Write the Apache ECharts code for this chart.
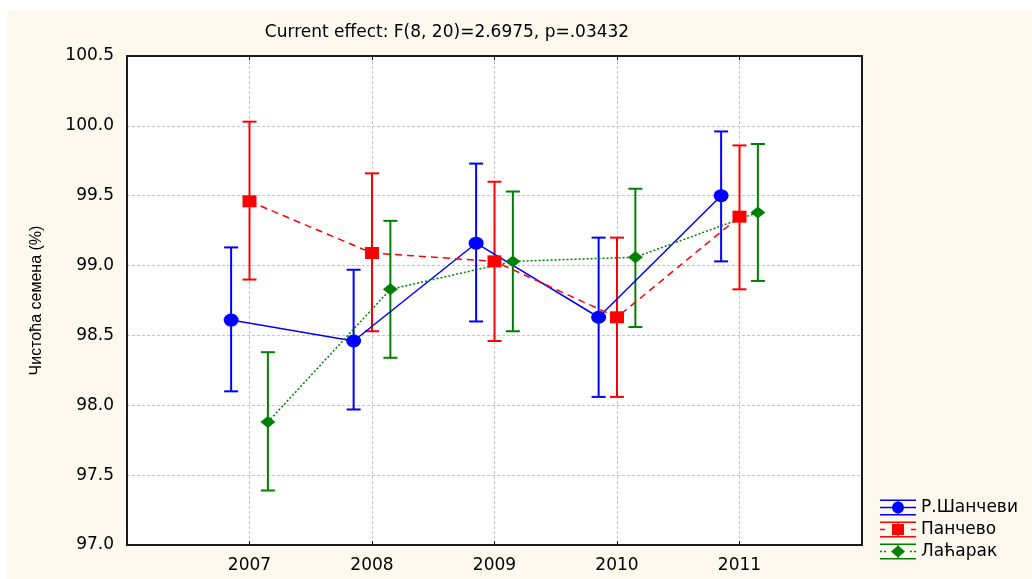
<!DOCTYPE html>
<html>
<head>
<meta charset="utf-8">
<script src="https://cdn.jsdelivr.net/npm/echarts@6/dist/echarts.min.js"></script>
<style>
  html, body { margin: 0; padding: 0; background: #ffffff; }
  #chart { position: absolute; left: 7px; top: 11px; width: 1025px; height: 568px; background: #fdf9ee; }
</style>
</head>
<body>
<div id="chart"></div>
<script>
// data
var years = [2007, 2008, 2009, 2010, 2011];
var yTicks = [97.0, 97.5, 98.0, 98.5, 99.0, 99.5, 100.0, 100.5];

var sanceviMean = [98.61, 98.46, 99.16, 98.63, 99.50];
var sanceviLow = [98.10, 97.97, 98.60, 98.06, 99.03];
var sanceviHigh = [99.13, 98.97, 99.73, 99.20, 99.96];

var pancevoMean = [99.46, 99.09, 99.03, 98.63, 99.35];
var pancevoLow = [98.90, 98.53, 98.46, 98.06, 98.83];
var pancevoHigh = [100.03, 99.66, 99.60, 99.20, 99.86];

var lacarakMean = [97.88, 98.83, 99.03, 99.06, 99.38];
var lacarakLow = [97.39, 98.34, 98.53, 98.56, 98.89];
var lacarakHigh = [98.38, 99.32, 99.53, 99.55, 99.87];

var names = ["Р.Шанчеви", "Панчево", "Лаћарак"];
var titleText = "Current effect: F(8, 20)=2.6975, p=.03432";

var chart = echarts.init(document.getElementById("chart"));
var font = "'DejaVu Sans', sans-serif";
var nameFont = "'Liberation Sans', Arial, sans-serif";

function points(mean, shift) {
  return years.map(function (y, i) { return [y + shift, mean[i]]; });
}
function bars(low, high, shift) {
  return years.map(function (y, i) { return [y + shift, low[i], high[i]]; });
}

function errorBar(color) {
  return function (params, api) {
    var x = api.value(0);
    var lo = api.coord([x, api.value(1)]);
    var hi = api.coord([x, api.value(2)]);
    var w = 7;
    var st = { stroke: color, lineWidth: 2 };
    return {
      type: "group",
      children: [
        { type: "line", shape: { x1: lo[0], y1: lo[1], x2: hi[0], y2: hi[1] }, style: st },
        { type: "line", shape: { x1: lo[0] - w, y1: lo[1], x2: lo[0] + w, y2: lo[1] }, style: st },
        { type: "line", shape: { x1: hi[0] - w, y1: hi[1], x2: hi[0] + w, y2: hi[1] }, style: st }
      ]
    };
  };
}

// legend icons: whiskers + line + marker
var iconBase = "M0 0H36V1.4H0Z M0 14.6H36V16H0Z M17.3 0H18.7V16H17.3Z ";
var iconCircle = "path://" + iconBase + "M0 7.3H36V8.7H0Z M24 8A6 6 0 1 1 12 8A6 6 0 1 1 24 8Z";
var iconSquare = "path://" + iconBase + "M0 7.3H5V8.7H0Z M31 7.3H36V8.7H31Z M12 2.5H24V13.5H12Z";
var iconDiamond = "path://" + iconBase + "M0 7.3H2V8.7H0Z M4 7.3H6V8.7H4Z M30 7.3H32V8.7H30Z M34 7.3H36V8.7H34Z M18 2L25 8L18 14L11 8Z";

var colors = ["#0000ff", "#ff0000", "#008000"];
var shifts = [-0.15, 0, 0.15];

var frame = { show: true, lineStyle: { color: "#1a1a1a", width: 2 } };
var innerTick = { show: true, inside: true, length: 4, lineStyle: { color: "#1a1a1a" } };
var dashGrid = { show: true, lineStyle: { color: "#c4c4c4", type: [3, 2], width: 1 } };

chart.setOption({
  animation: false,
  color: colors,
  graphic: [{
    type: "text",
    x: 440,
    y: 22,
    style: { text: titleText, font: "17px " + font, fill: "#000", align: "center", verticalAlign: "middle" }
  }],
  legend: {
    orient: "vertical",
    left: 868,
    top: 483,
    itemWidth: 36,
    itemHeight: 16,
    itemGap: 5,
    textStyle: { fontFamily: font, fontSize: 17, color: "#000" },
    data: [
      { name: names[0], icon: iconCircle, itemStyle: { color: colors[0] } },
      { name: names[1], icon: iconSquare, itemStyle: { color: colors[1] } },
      { name: names[2], icon: iconDiamond, itemStyle: { color: colors[2] } }
    ]
  },
  grid: { left: 120, top: 45, width: 735, height: 489, show: true, borderWidth: 0, backgroundColor: "#ffffff" },
  xAxis: [{
    type: "value",
    min: 2006,
    max: 2012,
    interval: 1,
    axisLine: frame,
    axisTick: innerTick,
    axisLabel: {
      margin: 12, fontFamily: font, fontSize: 17, color: "#000",
      formatter: function (v) { return years.indexOf(v) >= 0 ? String(v) : ""; }
    },
    splitLine: dashGrid
  }, {
    type: "value",
    position: "top",
    min: 2006,
    max: 2012,
    interval: 1,
    axisLine: frame,
    axisTick: innerTick,
    axisLabel: { show: false },
    splitLine: { show: false }
  }],
  yAxis: [{
    type: "value",
    min: yTicks[0],
    max: yTicks[yTicks.length - 1],
    interval: 0.5,
    name: "Чистоћа семена (%)",
    nameLocation: "middle",
    nameGap: 82,
    nameTextStyle: { fontFamily: nameFont, fontSize: 16, color: "#000" },
    axisLine: frame,
    axisTick: { show: false },
    axisLabel: {
      margin: 13, fontFamily: font, fontSize: 17, color: "#000",
      formatter: function (v) { return v.toFixed(1); }
    },
    splitLine: dashGrid
  }, {
    type: "value",
    position: "right",
    min: yTicks[0],
    max: yTicks[yTicks.length - 1],
    interval: 0.5,
    axisLine: frame,
    axisTick: { show: false },
    axisLabel: { show: false },
    splitLine: { show: false }
  }],
  series: [
    { type: "custom", name: names[0], renderItem: errorBar(colors[0]), itemStyle: { color: colors[0] }, data: bars(sanceviLow, sanceviHigh, shifts[0]), encode: { x: 0, y: [1, 2] }, z: 2 },
    { type: "custom", name: names[1], renderItem: errorBar(colors[1]), itemStyle: { color: colors[1] }, data: bars(pancevoLow, pancevoHigh, shifts[1]), encode: { x: 0, y: [1, 2] }, z: 2 },
    { type: "custom", name: names[2], renderItem: errorBar(colors[2]), itemStyle: { color: colors[2] }, data: bars(lacarakLow, lacarakHigh, shifts[2]), encode: { x: 0, y: [1, 2] }, z: 2 },
    {
      type: "line", name: names[0], data: points(sanceviMean, shifts[0]),
      symbol: "circle", symbolSize: [15, 13],
      itemStyle: { color: colors[0] },
      lineStyle: { color: colors[0], width: 1.5, type: "solid" }, z: 3
    },
    {
      type: "line", name: names[1], data: points(pancevoMean, shifts[1]),
      symbol: "rect", symbolSize: [14, 12],
      itemStyle: { color: colors[1] },
      lineStyle: { color: colors[1], width: 1.5, type: [7, 5] }, z: 3
    },
    {
      type: "line", name: names[2], data: points(lacarakMean, shifts[2]),
      symbol: "diamond", symbolSize: [15, 12],
      itemStyle: { color: colors[2] },
      lineStyle: { color: colors[2], width: 1.5, type: [2, 2] }, z: 3
    }
  ]
});
</script>
</body>
</html>
